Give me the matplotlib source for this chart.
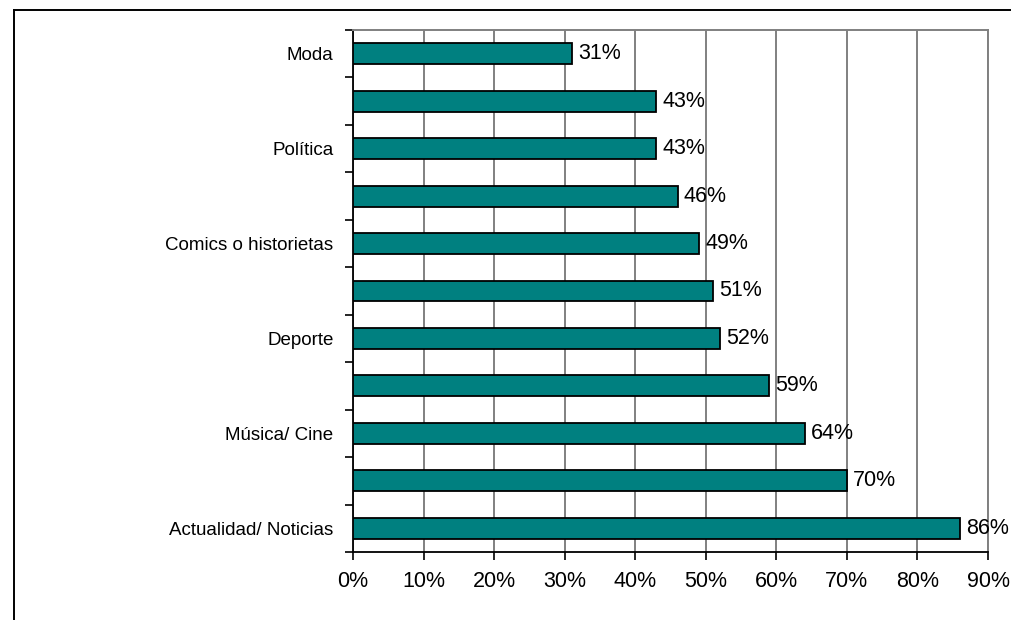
import matplotlib.pyplot as plt
from matplotlib.lines import Line2D
from matplotlib.ticker import FixedLocator, PercentFormatter

# temas leídos, de arriba hacia abajo (solo se rotulan los impares)
categorias = [
    "Moda", "", "Política", "", "Comics o historietas", "",
    "Deporte", "", "Música/ Cine", "", "Actualidad/ Noticias",
]
porcentajes = [31, 43, 43, 46, 49, 51, 52, 59, 64, 70, 86]
ticks_x = [0, 10, 20, 30, 40, 50, 60, 70, 80, 90]

plt.rcParams["font.family"] = ["Liberation Sans", "DejaVu Sans"]

fig = plt.figure(figsize=(10.11, 6.2), dpi=100)
ax = fig.add_axes([353 / 1011, 1 - 552 / 620, 635 / 1011, 522 / 620])

pos = list(range(len(categorias)))
ax.barh(pos, porcentajes, height=0.44, color="#008080",
        edgecolor="black", linewidth=1.3, zorder=3)

for y, v in zip(pos, porcentajes):
    ax.text(v + 0.9, y, f"{v}%", va="center", ha="left",
            fontsize=15.5, zorder=4)

ax.set_xlim(0, 90)
ax.set_ylim(len(categorias) - 0.5, -0.5)

ax.xaxis.set_major_locator(FixedLocator(ticks_x))
ax.xaxis.set_major_formatter(PercentFormatter(decimals=0))
ax.tick_params(axis="x", length=6, width=1.2, pad=8, labelsize=15.5)
ax.grid(axis="x", color="#808080", linewidth=1.4, zorder=0)

# etiquetas centradas en cada barra, marcas en los límites entre categorías
ax.set_yticks(pos)
ax.set_yticklabels(categorias, fontsize=13.5)
ax.tick_params(axis="y", which="major", length=0, pad=14)
ax.yaxis.set_minor_locator(FixedLocator([p - 0.5 for p in range(len(categorias) + 1)]))
ax.tick_params(axis="y", which="minor", length=6, width=1.2)

for lado in ("top", "right"):
    ax.spines[lado].set_color("#808080")
    ax.spines[lado].set_linewidth(1.4)
for lado in ("left", "bottom"):
    ax.spines[lado].set_color("black")
    ax.spines[lado].set_linewidth(1.3)

# marco exterior del gráfico
x0, y0 = 14 / 1011, 1 - 10 / 620
fig.add_artist(Line2D([x0, x0], [0, y0], color="black", linewidth=1.4))
fig.add_artist(Line2D([x0, 1], [y0, y0], color="black", linewidth=1.4))

fig.savefig("out.png", dpi=100)
